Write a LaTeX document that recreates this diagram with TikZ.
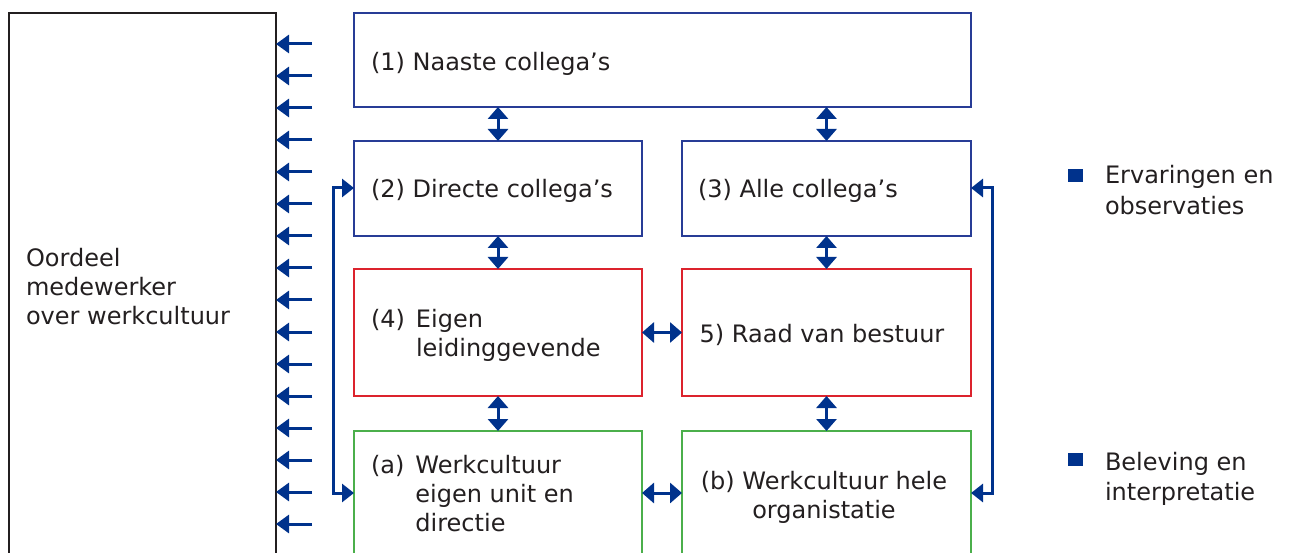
\documentclass[tikz,border=0pt]{standalone}
\usepackage{fontspec}
\setmainfont{DejaVu Sans}
\usetikzlibrary{arrows.meta}
\definecolor{boxblue}{RGB}{40,60,150}
\definecolor{arrblue}{RGB}{0,50,140}
\definecolor{boxred}{RGB}{220,35,45}
\definecolor{boxgreen}{RGB}{75,175,75}
\definecolor{txtgray}{RGB}{35,31,32}
\tikzset{
  frame/.style={draw, line width=2.8pt, fill=white, anchor=north west, inner sep=0pt, outer sep=0pt},
  bluebox/.style={frame, draw=boxblue},
  redbox/.style={frame, draw=boxred},
  greenbox/.style={frame, draw=boxgreen},
  blackbox/.style={frame, draw=txtgray},
  txt/.style={inner sep=0pt, outer sep=0pt, text=txtgray, font=\fontsize{24}{29}\selectfont, align=left},
  inarrow/.style={draw=arrblue, line width=3pt, -{Triangle[length=13pt,width=18pt]}},
  dbl/.style={draw=arrblue, line width=3pt, {Triangle[length=12pt,width=20pt]}-{Triangle[length=12pt,width=20pt]}},
  bracket/.style={draw=arrblue, line width=3pt, {Triangle[length=12pt,width=18pt]}-{Triangle[length=12pt,width=18pt]}},
  legsq/.style={fill=arrblue, minimum width=15pt, minimum height=13pt, inner sep=0pt, anchor=north west}
}
\begin{document}
\begin{tikzpicture}[x=1pt,y=-1pt]
\useasboundingbox (0,0) rectangle (1293,553);
\clip (0,0) rectangle (1293,553);
\fill[white] (0,0) rectangle (1293,553);
% left box
\node[blackbox, minimum width=267pt, minimum height=560pt] (lb) at (9,13) {};
\node[txt, anchor=west] (lbt) at (26,287) {Oordeel\\medewerker\\over werkcultuur};
% incoming arrows
\foreach \i in {0,...,15} {
  \coordinate (s\i) at (312,44+32*\i);
  \draw[inarrow] (s\i) -- (s\i -| lb.east);
}
% boxes
\node[bluebox, minimum width=617pt, minimum height=94pt] (n1) at (354,13) {};
\node[bluebox, minimum width=288pt, minimum height=95pt] (n2) at (354,141) {};
\node[bluebox, minimum width=289pt, minimum height=95pt] (n3) at (682,141) {};
\node[redbox, minimum width=288pt, minimum height=127pt] (n4) at (354,269) {};
\node[redbox, minimum width=289pt, minimum height=127pt] (n5) at (682,269) {};
\node[greenbox, minimum width=288pt, minimum height=160pt] (na) at (354,431) {};
\node[greenbox, minimum width=289pt, minimum height=160pt] (nb) at (682,431) {};
% texts
\node[txt, anchor=west] (t1) at (371,64) {(1) Naaste collega’s};
\node[txt, anchor=west] (t2) at (371,191) {(2) Directe collega’s};
\node[txt, anchor=west] (t3) at (698,191) {(3) Alle collega’s};
\node[txt, anchor=west] (t4) at (371,336) {\begin{tabular}{@{}l@{\hspace{11pt}}l@{}}(4)&Eigen\\&leidinggevende\end{tabular}};
\node[txt, anchor=center] (t5) at (822,335) {5) Raad van bestuur};
\node[txt, anchor=west] (ta) at (371,497) {\begin{tabular}{@{}l@{\hspace{11pt}}l@{}}(a)&Werkcultuur\\&eigen unit en\\&directie\end{tabular}};
\node[txt, anchor=center, align=center] (tb) at (824,497) {(b) Werkcultuur hele\\organistatie};
% vertical double arrows
\draw[dbl] (n2.north) -- (n2.north |- n1.south);
\draw[dbl] (n3.north) -- (n3.north |- n1.south);
\draw[dbl] (n2.south) -- (n4.north);
\draw[dbl] (n3.south) -- (n5.north);
\draw[dbl] (n4.south) -- (n4.south |- na.north);
\draw[dbl] (n5.south) -- (n5.south |- nb.north);
% horizontal double arrows
\draw[dbl] (n4.east) -- (n5.west);
\coordinate (hab) at (662,493);
\draw[dbl] (hab -| na.east) -- (hab -| nb.west);
% brackets
\coordinate (lt) at (333,188);
\coordinate (lbm) at (333,493);
\draw[bracket] (lt -| n2.west) -- (lt) -- (lbm) -- (lbm -| na.west);
\coordinate (rt) at (992,188);
\coordinate (rbm) at (992,493);
\draw[bracket] (rt -| n3.east) -- (rt) -- (rbm) -- (rbm -| nb.east);
% legend
\node[legsq] (q1) at (1068,169) {};
\node[txt, anchor=base west] (l1) at (1105,184) {Ervaringen en};
\node[txt, anchor=base west] (l1b) at (1105,215) {observaties};
\node[legsq] (q2) at (1068,453) {};
\node[txt, anchor=base west] (l2) at (1105,470) {Beleving en};
\node[txt, anchor=base west] (l2b) at (1105,500) {interpretatie};
\end{tikzpicture}
\end{document}
